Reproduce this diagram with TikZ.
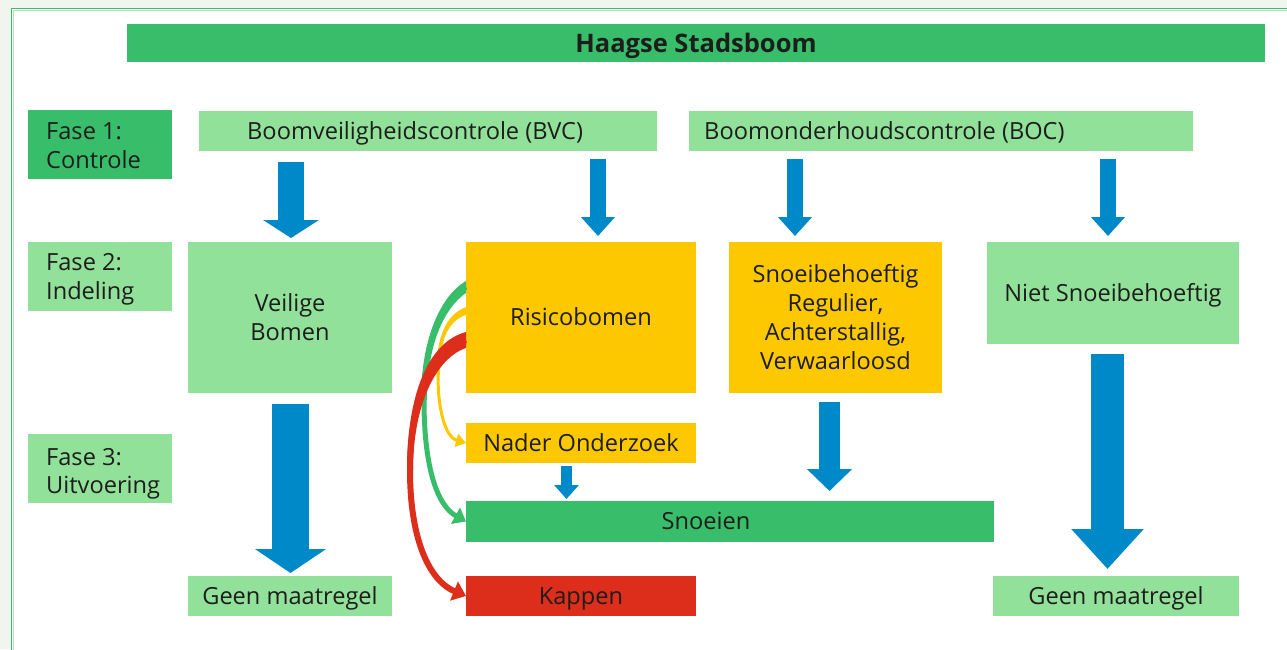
\documentclass[tikz,border=0pt]{standalone}
\usepackage{fontspec}
\setmainfont{Open Sans}
\usetikzlibrary{arrows.meta}
\definecolor{dgreen}{HTML}{38BE6B}
\definecolor{lgreen}{HTML}{92E19A}
\definecolor{framelight}{HTML}{A8E8B4}
\definecolor{yel}{HTML}{FDC800}
\definecolor{rred}{HTML}{DD2E1C}
\definecolor{bblue}{HTML}{0089C8}
\definecolor{bg}{HTML}{F0F6EE}
\definecolor{txt}{HTML}{1D1D1B}
\begin{document}
\begin{tikzpicture}[x=1pt,y=-1pt,
  box/.style={rectangle, inner sep=0pt, outer sep=0pt, align=center, text=txt,
    font=\fontsize{23.6}{29}\selectfont},
  oneline/.style={text height=16.85pt, text depth=0pt},
  darkbox/.style={box, fill=dgreen},
  lightbox/.style={box, fill=lgreen},
  yelbox/.style={box, fill=yel},
  redbox/.style={box, fill=rred},
  fasetext/.style={inner sep=0pt, anchor=north west, align=left, text=txt,
    font=\fontsize{23.6}{28.7}\selectfont},
  lbl/.style={inner sep=0pt, text=txt, font=\fontsize{23.6}{29}\selectfont, oneline},
  blockarrow/.style={draw=bblue, line cap=butt},
]
\useasboundingbox (0,0) rectangle (1287,649);
% frame
\fill[bg] (0,0) rectangle (1287,649);
\filldraw[fill=white, draw=dgreen, line width=1.5pt] (11.5,8.5) rectangle (1300,660);
\draw[framelight, line width=1pt] (13,10) -- (1300,10);
\draw[framelight, line width=1pt] (13,10) -- (13,660);

% title
\node[darkbox, minimum width=1138pt, minimum height=38pt,
  font=\fontsize{25.5}{30}\selectfont\bfseries, text height=18.2pt, text depth=0pt]
  (title) at (696,43) {Haagse Stadsboom};

% phases
\node[darkbox, minimum width=144pt, minimum height=69pt] (f1) at (100,144.5) {};
\node[fasetext] (f1t) at (46,122.7) {Fase 1:\\Controle};
\node[lightbox, minimum width=144pt, minimum height=69pt] (f2) at (100,276.5) {};
\node[fasetext] (f2t) at (46,253.3) {Fase 2:\\Indeling};
\node[lightbox, minimum width=144pt, minimum height=69pt] (f3) at (100,468.5) {};
\node[fasetext] (f3t) at (46,447.7) {Fase 3:\\Uitvoering};

% phase 1
\node[lightbox, minimum width=458pt, minimum height=40pt] (bvc) at (428,131) {};
\node[lbl, anchor=west] (bvct) at (247,131) {Boomveiligheidscontrole (BVC)};
\node[lightbox, minimum width=504pt, minimum height=40pt] (boc) at (941,131) {};
\node[lbl, anchor=west] (boct) at (704,131) {Boomonderhoudscontrole (BOC)};

% phase 2
\node[lightbox, minimum width=204pt, minimum height=151pt] (veilige) at (290,317.5) {Veilige\\Bomen};
\node[yelbox, oneline, minimum width=230pt, minimum height=151pt] (risico) at (581,317.5) {Risicobomen};
\node[yelbox, minimum width=213pt, minimum height=151pt] (snoei) at (835.5,317.5)
  {Snoeibehoeftig\\Regulier,\\Achterstallig,\\Verwaarloosd};
\node[lightbox, oneline, minimum width=252pt, minimum height=102pt] (niet) at (1113,293) {Niet Snoeibehoeftig};

% phase 3
\node[yelbox, oneline, minimum width=230pt, minimum height=40pt] (nader) at (581,443) {Nader Onderzoek};
\node[darkbox, minimum width=528pt, minimum height=41pt] (snoeien) at (730,521.5) {};
\node[lbl] (snoeient) at (706,521.5) {Snoeien};
\node[redbox, oneline, minimum width=230pt, minimum height=40pt] (kappen) at (581,596) {Kappen};
\node[lightbox, oneline, minimum width=204pt, minimum height=40pt] (geen1) at (290,596) {Geen maatregel};
\node[lightbox, oneline, minimum width=246pt, minimum height=40pt] (geen2) at (1116,596) {Geen maatregel};

% blue block arrows
\draw[blockarrow, line width=26pt, -{Triangle[length=18pt, width=55pt]}]
  (veilige.north |- bvc.south) ++(1,11) -- ++(0,76);
\draw[blockarrow, line width=16pt, -{Triangle[length=19pt, width=33pt]}]
  (risico.north |- bvc.south) ++(17,8) -- ++(0,77);
\draw[blockarrow, line width=16pt, -{Triangle[length=19pt, width=33pt]}]
  (snoei.north |- boc.south) ++(-40.5,8) -- ++(0,77);
\draw[blockarrow, line width=16pt, -{Triangle[length=19pt, width=33pt]}]
  (niet.north |- boc.south) ++(-5,8) -- ++(0,77);
\draw[blockarrow, line width=37pt, -{Triangle[length=24pt, width=70pt]}]
  (veilige.south) ++(0.5,11) -- ++(0,169);
\draw[blockarrow, line width=21pt, -{Triangle[length=22pt, width=44pt]}]
  (snoei.south) ++(-6,9) -- ++(0,89);
\draw[blockarrow, line width=11pt, -{Triangle[length=14pt, width=24pt]}]
  (nader.south) ++(-14.5,3) -- ++(0,33);
\draw[blockarrow, line width=33pt, -{Triangle[length=40pt, width=70pt]}]
  (niet.south) ++(-5.5,10) -- ++(0,215);

% curved arrows from Risicobomen (tapered starts)
\fill[yel] (466,307) .. controls (445,315) and (436.5,338) .. (436.5,375)
  -- (439.5,375) .. controls (439.5,342) and (447,321) .. (466,315) -- cycle;
\draw[yel, line width=3pt, -{Triangle[length=10pt, width=13pt]}]
  ([yshift=6.5pt]risico.west) .. controls (446,318) and (438,340) .. (438,375)
  .. controls (438,418) and (448,438) .. (nader.west);
\fill[dgreen] (466,281) .. controls (440,296) and (421,340) .. (421,400)
  -- (427,400) .. controls (427,345) and (444,308) .. (466,293) -- cycle;
\draw[dgreen, line width=5pt, -{Triangle[length=12pt, width=18pt]}]
  ([yshift=30.5pt]risico.west) .. controls (442,302) and (424,340) .. (424,400)
  .. controls (424,470) and (438,506) .. (snoeien.west);
\fill[rred] (466,332) .. controls (428,342) and (407,395) .. (407,470)
  -- (413,470) .. controls (413,405) and (436,358) .. (466,348) -- cycle;
\draw[rred, line width=6pt, -{Triangle[length=13pt, width=20pt]}]
  ([yshift=-22.5pt]risico.west) .. controls (432,350) and (410,400) .. (410,470)
  .. controls (410,545) and (432,582) .. (kappen.west);
\end{tikzpicture}
\end{document}
